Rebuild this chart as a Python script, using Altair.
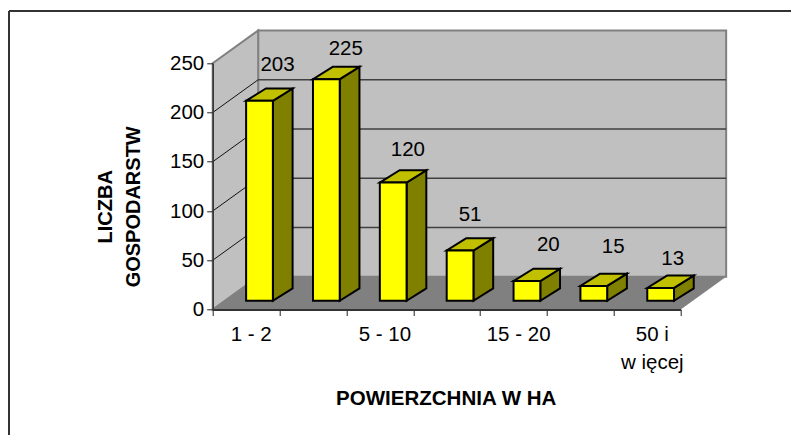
import altair as alt
import pandas as pd

categories = ["1 - 2", "2 - 5", "5 - 10", "10 - 15", "15 - 20", "20 - 50", "50 i więcej"]
values = [203, 225, 120, 51, 20, 15, 13]
value_ticks = [0, 50, 100, 150, 200, 250]
# label nudges away from the bar top, in axis units
label_nudge_x = [0.27, 0.29, 0.22, 0.15, 0.32, 0.29, 0.18]
label_nudge_y = [36, 31, 33, 36, 37, 40, 29]

FONT = "Liberation Sans"
XMAX, YMAX = 7, 250
W, H = 468, 246.2
DX, DV = 0.68, 33.3           # floor depth in axis units
HALF = 0.2                    # half bar width
FX, FV = 0.2, 8.9             # bar front offset from the axis plane
BX, BV = 0.295, 12.5          # bar depth

xs = alt.Scale(domain=[0, XMAX], nice=False, zero=False)
ys = alt.Scale(domain=[0, YMAX], nice=False, zero=False)

x_axis = alt.Axis(
    values=list(range(XMAX + 1)),
    labelExpr="[" + ",".join(
        ("['50 i','w ięcej']" if i == 6 else f"'{c}'") if i % 2 == 0 else "''"
        for i, c in enumerate(categories)
    ) + ",''][datum.value]",
    labelOffset=38, labelFont=FONT, labelFontSize=20.5, labelColor="#000000",
    labelOverlap=False, labelBound=False, labelFlush=False, labelPadding=9,
    labelLineHeight=28, labelAlign="center",
    tickSize=6, tickColor="#222222", tickWidth=1,
    domainColor="#333333", domainWidth=2, grid=False,
    title="POWIERZCHNIA W HA", titleFont=FONT, titleFontSize=20.5, titleFontWeight="bold",
    titleColor="#000000", titleX=233, titleY=79, zindex=2,
)
y_axis = alt.Axis(
    values=value_ticks, labelFont=FONT, labelFontSize=20.5, labelColor="#000000",
    labelPadding=3, tickSize=6, tickColor="#222222", tickWidth=1,
    domainColor="#333333", domainWidth=1.5, grid=False,
    title=["LICZBA", "GOSPODARSTW"], titleFont=FONT, titleFontSize=20, titleFontWeight="bold",
    titleColor="#000000", titleX=-97, titleY=143, titleLineHeight=28, zindex=2,
)
X = lambda f: alt.X(f, type="quantitative", scale=xs, axis=x_axis)
Y = lambda f: alt.Y(f, type="quantitative", scale=ys, axis=y_axis)

back = pd.DataFrame({"x": [DX], "x2": [XMAX + DX], "y": [DV], "y2": [YMAX + DV]})
back_wall = alt.Chart(back).mark_rect(color="#C0C0C0", stroke="#808080", strokeWidth=2).encode(
    x=X("x"), x2="x2:Q", y=Y("y"), y2="y2:Q"
)

left = pd.DataFrame({"x": [0, DX], "y": [0, DV], "y2": [YMAX, YMAX + DV]})
left_wall = alt.Chart(left).mark_area(color="#C0C0C0", stroke="#808080", strokeWidth=2).encode(
    x=X("x"), y=Y("y"), y2="y2:Q"
)

floor = pd.DataFrame({"y": [0, DV], "x": [0, DX], "x2": [XMAX, XMAX + DX]})
floor_area = alt.Chart(floor).mark_area(orient="horizontal", color="#808080").encode(
    y=Y("y"), x=X("x"), x2="x2:Q"
)

grid_back = pd.DataFrame({"x": DX, "x2": XMAX + DX, "y": [v + DV for v in value_ticks[1:-1]]})
grid_back_rules = alt.Chart(grid_back).mark_rule(color="#404040", strokeWidth=1.5).encode(
    x=X("x"), x2="x2:Q", y=Y("y")
)
grid_left = pd.DataFrame(
    [{"t": v, "x": a, "y": v + b} for v in value_ticks[1:-1] for a, b in ((0, 0), (DX, DV))]
)
grid_left_lines = alt.Chart(grid_left).mark_line(color="#111111", strokeWidth=1).encode(
    x=X("x"), y=Y("y"), detail="t:N"
)

rows_front, rows_side, rows_top, rows_label = [], [], [], []
for i, (c, v) in enumerate(zip(categories, values)):
    xl = i + 0.5 + FX - HALF
    xr = i + 0.5 + FX + HALF
    rows_front.append({"c": c, "x": xl, "x2": xr, "y": FV, "y2": v + FV})
    for a, b in ((0, 0), (BX, BV)):
        rows_side.append({"c": c, "x": xr + a, "y": v + FV + b, "y2": FV + b})
        rows_top.append({"c": c, "x": xl + a, "x2": xr + a, "y": v + FV + b})
    rows_label.append({"x": i + 0.5 + FX + label_nudge_x[i], "y": v + FV + label_nudge_y[i], "t": str(v)})

stroke = dict(stroke="#000000", strokeWidth=2)
side = alt.Chart(pd.DataFrame(rows_side)).mark_area(color="#808000", **stroke).encode(
    x=X("x"), y=Y("y"), y2="y2:Q", detail="c:N"
)
top = alt.Chart(pd.DataFrame(rows_top)).mark_area(orient="horizontal", color="#C0C000", **stroke).encode(
    y=Y("y"), x=X("x"), x2="x2:Q", detail="c:N"
)
front = alt.Chart(pd.DataFrame(rows_front)).mark_rect(color="#FFFF00", **stroke).encode(
    x=X("x"), x2="x2:Q", y=Y("y"), y2="y2:Q"
)
labels = alt.Chart(pd.DataFrame(rows_label)).mark_text(
    font=FONT, fontSize=20.5, color="#000000", align="center", baseline="middle"
).encode(x=X("x"), y=Y("y"), text="t:N")

border_top = alt.Chart(pd.DataFrame({"a": [0]})).mark_rule(color="#333333", strokeWidth=2).encode(
    x=alt.value(-203.7), x2=alt.value(578.3), y=alt.value(-52.3)
)
border_left = alt.Chart(pd.DataFrame({"a": [0]})).mark_rule(color="#333333", strokeWidth=2).encode(
    x=alt.value(-203.7), y=alt.value(-52.3), y2=alt.value(371.7)
)

chart = alt.layer(
    back_wall, left_wall, floor_area, grid_back_rules, grid_left_lines,
    side, top, front, labels, border_top, border_left,
).properties(
    width=W, height=H,
    autosize=alt.AutoSizeParams(type="none", contains="content"),
    padding={"left": 204.7, "top": 55.3, "right": 110.3, "bottom": 125.5},
    background="white",
).configure_view(stroke=None, clip=False)

chart.save("out.html", embed_options={"renderer": "svg", "actions": False})
